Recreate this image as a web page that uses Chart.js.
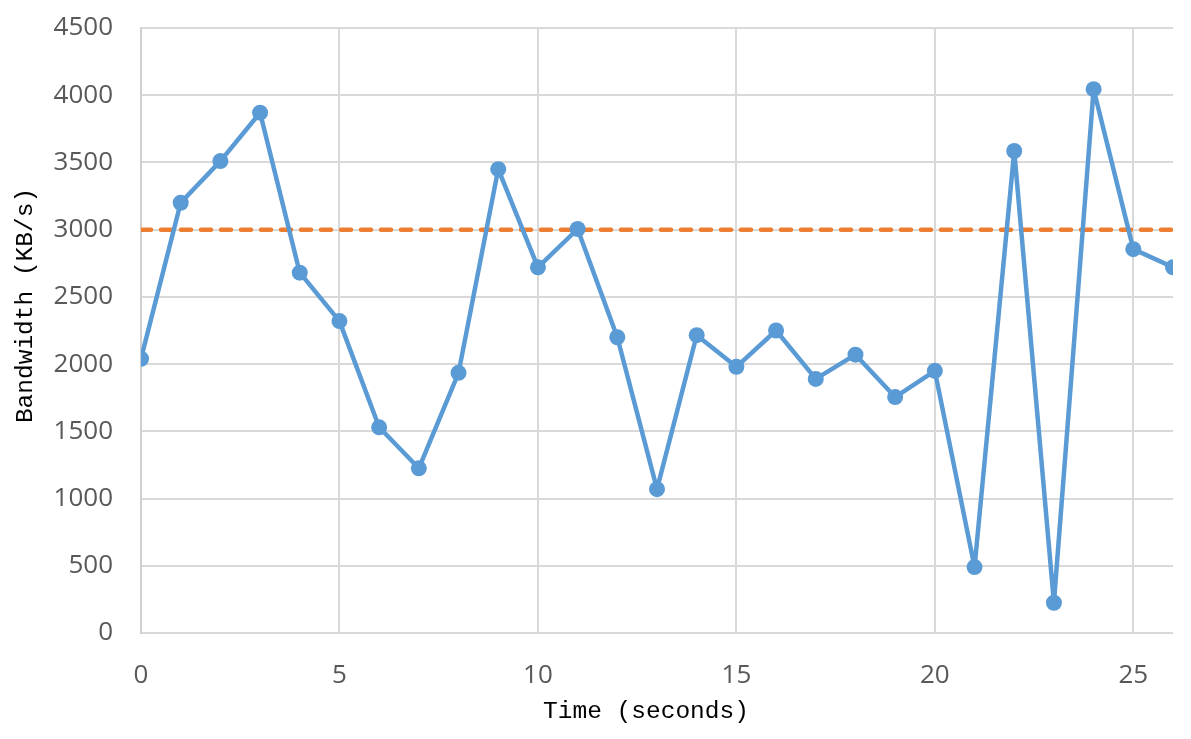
<!DOCTYPE html>
<html>
<head>
<meta charset="utf-8">
<script src="https://cdn.jsdelivr.net/npm/chart.js@4/dist/chart.umd.min.js"></script>
<style>
  html, body { margin: 0; padding: 0; background: #ffffff; }
  #wrap { width: 1191px; height: 739px; }
</style>
</head>
<body>
<div id="wrap"><canvas id="c" width="1191" height="739"></canvas></div>
<script>
const times = [0,1,2,3,4,5,6,7,8,9,10,11,12,13,14,15,16,17,18,19,20,21,22,23,24,25,26];
const bandwidth = [2040,3200,3510,3870,2680,2320,1530,1225,1935,3450,2720,3005,2200,1070,2215,1980,2250,1890,2070,1755,1950,490,3585,225,4045,2855,2720];
const thresholdTimes = [0, 26];
const thresholdValue = 3000;
const xTitle = 'Time (seconds)';
const yTitle = 'Bandwidth (KB/s)';

const bwPoints = times.map((t, i) => ({x: t, y: bandwidth[i]}));
const thPoints = thresholdTimes.map(t => ({x: t, y: thresholdValue}));

const titleFont = '24.5px "Liberation Mono"';
const axisTitles = {
  id: 'axisTitles',
  afterDraw(chart) {
    const ctx = chart.ctx;
    ctx.save();
    ctx.fillStyle = '#000000';
    ctx.font = titleFont;
    ctx.textAlign = 'center';
    ctx.textBaseline = 'alphabetic';
    ctx.fillText(xTitle, 646, 718);
    ctx.translate(32, 305.5);
    ctx.rotate(-Math.PI / 2);
    ctx.fillText(yTitle, 0, 0);
    ctx.restore();
  }
};

function zeroPad(s) {
  s.paddingTop = 0; s.paddingBottom = 0; s.paddingLeft = 0; s.paddingRight = 0;
}

new Chart(document.getElementById('c'), {
  type: 'line',
  data: {
    datasets: [
      {
        label: 'Bandwidth',
        data: bwPoints,
        borderColor: '#5b9bd5',
        backgroundColor: '#5b9bd5',
        borderWidth: 4.5,
        borderJoinStyle: 'round',
        pointRadius: 8,
        pointBorderWidth: 0,
        pointHoverRadius: 8,
        tension: 0,
        order: 1
      },
      {
        label: 'Threshold',
        data: thPoints,
        borderColor: '#ed7d31',
        borderWidth: 4.5,
        borderDash: [10, 10],
        borderCapStyle: 'round',
        pointRadius: 0,
        tension: 0,
        order: 2
      }
    ]
  },
  plugins: [axisTitles],
  options: {
    responsive: false,
    animation: false,
    events: [],
    layout: { padding: { top: 28, right: 18, left: 0, bottom: 0 } },
    plugins: { legend: { display: false }, tooltip: { enabled: false } },
    scales: {
      x: {
        type: 'linear',
        min: 0,
        max: 26,
        afterFit: s => { s.height = 106; zeroPad(s); },
        ticks: {
          stepSize: 5,
          includeBounds: false,
          color: '#595959',
          font: { family: 'Open Sans', size: 26 },
          padding: 27,
          maxRotation: 0,
          callback: v => String(v)
        },
        grid: { color: '#d9d9d9', lineWidth: 2, drawTicks: false },
        border: { display: false },
        title: { display: false }
      },
      y: {
        type: 'linear',
        min: 0,
        max: 4500,
        afterFit: s => { s.width = 141; zeroPad(s); },
        ticks: {
          stepSize: 500,
          color: '#595959',
          font: { family: 'Open Sans', size: 26 },
          padding: 28,
          callback: v => String(v)
        },
        grid: { color: '#d9d9d9', lineWidth: 2, drawTicks: false },
        border: { display: true, color: '#d0d0d0', width: 2 },
        title: { display: false }
      }
    }
  }
});
</script>
</body>
</html>
